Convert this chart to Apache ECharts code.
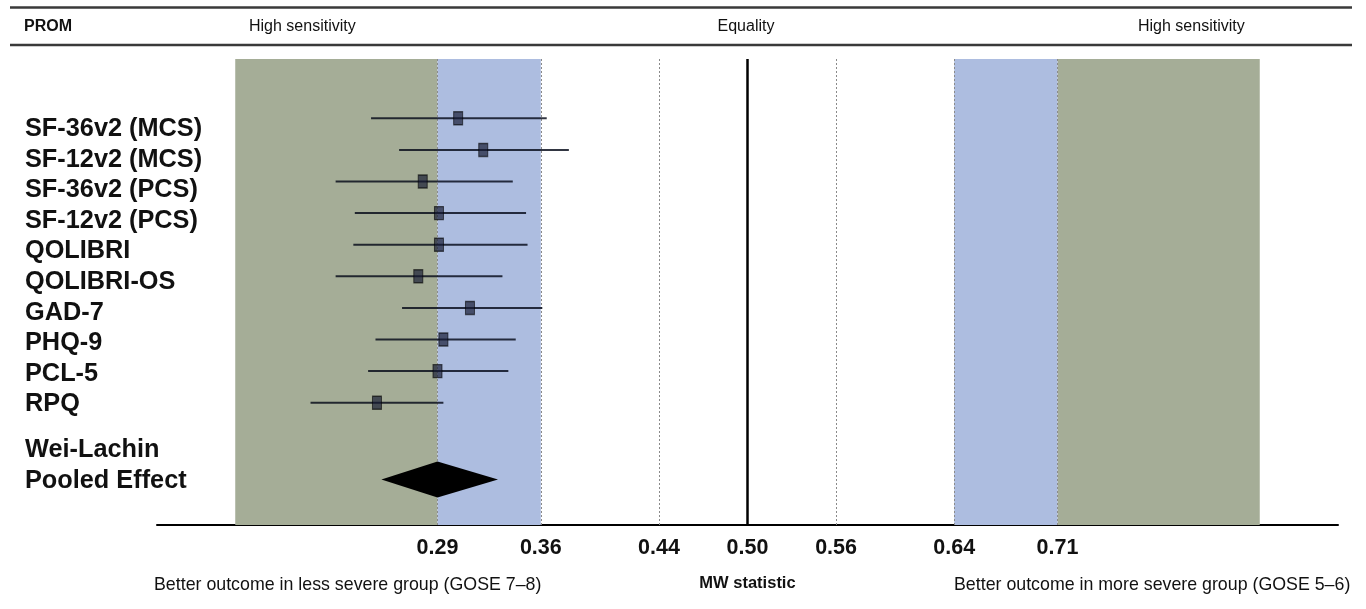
<!DOCTYPE html>
<html>
<head>
<meta charset="utf-8">
<script src="https://cdn.jsdelivr.net/npm/echarts@6/dist/echarts.min.js"></script>
<style>
html,body{margin:0;padding:0;background:#fff;}
#chart{width:1366px;height:609px;}
</style>
</head>
<body>
<div id="chart"></div>
<script>
// ---- data ----
const proms = ['SF-36v2 (MCS)', 'SF-12v2 (MCS)', 'SF-36v2 (PCS)', 'SF-12v2 (PCS)', 'QOLIBRI', 'QOLIBRI-OS', 'GAD-7', 'PHQ-9', 'PCL-5', 'RPQ'];
const estimate = [0.304, 0.321, 0.280, 0.291, 0.291, 0.277, 0.312, 0.294, 0.290, 0.249];
const lower    = [0.245, 0.264, 0.221, 0.234, 0.233, 0.221, 0.266, 0.248, 0.243, 0.204];
const upper    = [0.364, 0.379, 0.341, 0.350, 0.351, 0.334, 0.361, 0.343, 0.338, 0.294];
const pooledLabel = ['Wei-Lachin', 'Pooled Effect'];
const pooledEstimate = 0.290;
const pooledLower = 0.252;
const pooledUpper = 0.331;
const tickValues = [0.29, 0.36, 0.44, 0.50, 0.56, 0.64, 0.71];
const highSensBands = [[0.153, 0.29], [0.71, 0.847]];
const midSensBands = [[0.29, 0.36], [0.64, 0.71]];
const dottedRefs = [0.29, 0.36, 0.44, 0.56, 0.64, 0.71];
const equalityValue = 0.5;
const headerTexts = ['PROM', 'High sensitivity', 'Equality', 'High sensitivity'];
const footerTexts = ['Better outcome in less severe group (GOSE 7\u20138)', 'Better outcome in more severe group (GOSE 5\u20136)'];
const xAxisName = 'MW statistic';

// ---- derived ----
const rowY = proms.map((_, i) => i + 1);
const pooledRow = 12.43;
const labelPos = proms.map((_, i) => i + 1).concat([11.5, 12.5]);
const labelNames = proms.concat(pooledLabel);

const FONT = '"Liberation Sans", Arial, Helvetica, sans-serif';
const chart = echarts.init(document.getElementById('chart'), null, {renderer: 'canvas'});

const option = {
  animation: false,
  backgroundColor: '#ffffff',
  textStyle: {fontFamily: FONT},
  grid: {left: 157, right: 28, top: 59, bottom: 84},
  xAxis: {
    type: 'value', min: 0.1, max: 0.9,
    splitLine: {show: false},
    axisTick: {show: false},
    axisLine: {show: true, onZero: false, lineStyle: {color: '#000', width: 2}},
    axisLabel: {
      customValues: tickValues,
      formatter: v => v.toFixed(2),
      fontSize: 21.5, fontWeight: 'bold', color: '#111', margin: 12, fontFamily: FONT
    },
    name: xAxisName, nameLocation: 'middle', nameGap: 50,
    nameTextStyle: {fontSize: 16.5, fontWeight: 'bold', color: '#111', fontFamily: FONT}
  },
  yAxis: [
    {type: 'value', inverse: true, min: -0.877, max: 13.87, show: false},
    {
      type: 'value', inverse: true, min: -1.288, max: 13.94, position: 'left',
      axisLine: {show: false}, axisTick: {show: false}, splitLine: {show: false},
      axisLabel: {
        customValues: labelPos,
        formatter: v => { const k = labelPos.findIndex(p => Math.abs(p - v) < 1e-6); return k >= 0 ? labelNames[k] : ''; },
        align: 'left', margin: 132, fontSize: 25.3, fontWeight: 'bold', color: '#111', fontFamily: FONT
      }
    }
  ],
  series: [
    {
      type: 'scatter', data: [], z: 1, silent: true,
      markArea: {
        silent: true, z: 1,
        data: highSensBands.map(b => [{xAxis: b[0], itemStyle: {color: '#a5ad97'}}, {xAxis: b[1]}])
          .concat(midSensBands.map(b => [{xAxis: b[0], itemStyle: {color: '#adbde0'}}, {xAxis: b[1]}]))
      }
    },
    {
      type: 'scatter', data: [], z: 2, silent: true,
      markLine: {
        silent: true, z: 2, symbol: 'none', label: {show: false},
        data: dottedRefs.map(v => ({xAxis: v, lineStyle: {color: '#8a8a8a', width: 1, type: [2, 2]}}))
          .concat([{xAxis: equalityValue, lineStyle: {color: '#000', width: 2.5, type: 'solid'}}])
      }
    },
    {
      type: 'custom', z: 3, silent: true,
      data: proms.map((_, i) => [lower[i], upper[i], rowY[i]]),
      encode: {x: [0, 1], y: 2},
      renderItem: (params, api) => {
        const a = api.coord([api.value(0), api.value(2)]);
        const b = api.coord([api.value(1), api.value(2)]);
        return {type: 'line', shape: {x1: a[0], y1: a[1], x2: b[0], y2: b[1]},
          style: {stroke: 'rgba(5,10,25,0.82)', lineWidth: 2}};
      }
    },
    {
      type: 'scatter', z: 4, silent: true,
      symbol: 'rect', symbolSize: [9, 13],
      data: proms.map((_, i) => [estimate[i], rowY[i]]),
      itemStyle: {color: 'rgba(20,25,50,0.68)', borderColor: 'rgba(0,0,0,0.6)', borderWidth: 1.2, opacity: 1}
    },
    {
      type: 'custom', z: 4, silent: true,
      data: [[pooledLower, pooledEstimate, pooledUpper, pooledRow]],
      encode: {x: [0, 2], y: 3},
      renderItem: (params, api) => {
        const l = api.coord([api.value(0), api.value(3)]);
        const c = api.coord([api.value(1), api.value(3)]);
        const r = api.coord([api.value(2), api.value(3)]);
        const h = 18;
        return {type: 'polygon', shape: {points: [[l[0], l[1]], [c[0], c[1] - h], [r[0], r[1]], [c[0], c[1] + h]]},
          style: {fill: '#000'}};
      }
    }
  ],
  graphic: [
    {type: 'line', shape: {x1: 10, y1: 7.5, x2: 1352, y2: 7.5}, style: {stroke: '#3a3a3a', lineWidth: 2.5}},
    {type: 'line', shape: {x1: 10, y1: 45, x2: 1352, y2: 45}, style: {stroke: '#3a3a3a', lineWidth: 2.5}},
    {type: 'text', x: 24, y: 27, style: {text: headerTexts[0], font: 'bold 16px ' + FONT, fill: '#111', verticalAlign: 'middle', align: 'left'}},
    {type: 'text', x: 249, y: 27, style: {text: headerTexts[1], font: '16px ' + FONT, fill: '#111', verticalAlign: 'middle', align: 'left'}},
    {type: 'text', x: 746, y: 27, style: {text: headerTexts[2], font: '16px ' + FONT, fill: '#111', verticalAlign: 'middle', align: 'center'}},
    {type: 'text', x: 1138, y: 27, style: {text: headerTexts[3], font: '16px ' + FONT, fill: '#111', verticalAlign: 'middle', align: 'left'}},
    {type: 'text', x: 154, y: 585, style: {text: footerTexts[0], font: '17.8px ' + FONT, fill: '#111', verticalAlign: 'middle', align: 'left'}},
    {type: 'text', x: 954, y: 585, style: {text: footerTexts[1], font: '17.8px ' + FONT, fill: '#111', verticalAlign: 'middle', align: 'left'}}
  ]
};
chart.setOption(option);
</script>
</body>
</html>
